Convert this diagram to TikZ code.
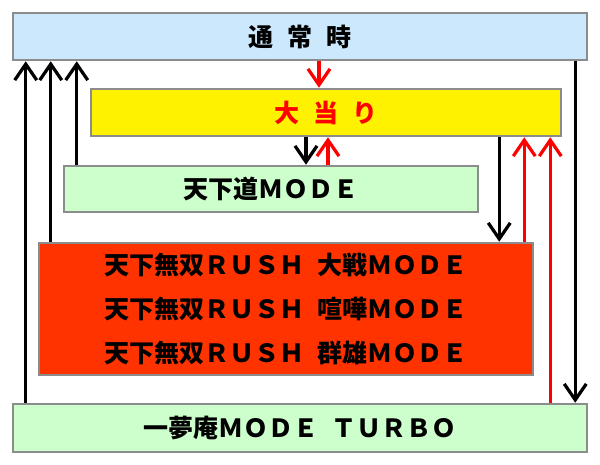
\documentclass[tikz,border=0pt]{standalone}
\usepackage{fontspec}
\usepackage{xcolor}
\usepackage{tikz}
\usetikzlibrary{arrows.meta, positioning, calc}
\newfontfamily\jpfont{Noto Sans CJK JP}[BoldFont={Noto Sans CJK JP Black}]
\definecolor{frame}{RGB}{140, 140, 140}
\definecolor{normalblue}{RGB}{204, 232, 252}
\definecolor{modegreen}{RGB}{204, 255, 204}
\definecolor{rushred}{RGB}{255, 51, 0}
\definecolor{hitred}{RGB}{255, 0, 0}
\tikzset{
    base/.style={text centered, font=\jpfont\bfseries\fontsize{17.8}{31}\selectfont, draw=frame, line width=1.8pt, inner sep=0pt},
    normal/.style={base, rectangle, minimum width=14.35cm, minimum height=1.175cm, fill=normalblue},
    bonus/.style={base, rectangle, minimum width=11.75cm, minimum height=1.175cm, fill=yellow, text=hitred},
    mode/.style={base, rectangle, minimum height=1.15cm, fill=modegreen},
    rush/.style={base, rectangle, minimum width=12.35cm, minimum height=3.3cm, fill=rushred, align=center},
    arrow/.style={line width=2.3pt, -{Straight Barb[length=0.4cm, width=0.55cm, line width=2.3pt]}, color=black},
    hitarrow/.style={arrow, color=hitred}
}
\newcommand{\gap}{\hspace{0.55em}}
\newcommand{\wsp}{\hspace{0.5em}}
\begin{document}
\begin{tikzpicture}
        \useasboundingbox (0,0) rectangle (15,-11.625);
        % -- States --
        \node (normal) [normal] at (7.5,-0.9125) {通\gap 常\gap 時};
        \node (bonus) [bonus] at (8.15,-2.8125) {大\gap 当\gap り};
        \node (tenka) [mode, minimum width=10.35cm] at (6.775,-4.725) {天下道ＭＯＤＥ};
        \node (rush) [rush] at (7.15,-7.725) {天下無双ＲＵＳＨ\wsp 大戦ＭＯＤＥ\\天下無双ＲＵＳＨ\wsp 喧嘩ＭＯＤＥ\\天下無双ＲＵＳＨ\wsp 群雄ＭＯＤＥ};
        \node (turbo) [mode, minimum width=14.35cm, minimum height=1.2cm] at (7.5,-10.7) {一夢庵ＭＯＤＥ\wsp ＴＵＲＢＯ};

        % -- Arrow start points --
        \coordinate (upA) at ([xshift=0.35cm]turbo.north west);
        \coordinate (upB) at ([xshift=0.325cm]rush.north west);
        \coordinate (upC) at ([xshift=0.35cm]tenka.north west);
        \coordinate (hit) at ([xshift=0.475cm]normal.south);
        \coordinate (fall) at ([xshift=-0.5cm]bonus.south);
        \coordinate (back) at ([xshift=0.05cm]bonus.south);
        \coordinate (toRush) at ([xshift=-1.575cm]bonus.south east);
        \coordinate (rushHit) at ([xshift=-0.25cm]rush.north east);
        \coordinate (turboHit) at ([xshift=-0.3cm]bonus.south east);
        \coordinate (toTurbo) at ([xshift=-0.325cm]normal.south east);

        % Connectors
        \draw [arrow] (upA) -- (upA |- normal.south);
        \draw [arrow] (upB) -- (upB |- normal.south);
        \draw [arrow] (upC) -- (upC |- normal.south);
        \draw [hitarrow] (hit) -- (hit |- bonus.north);
        \draw [arrow] (fall) -- (fall |- tenka.north);
        \draw [hitarrow] (back |- tenka.north) -- (back);
        \draw [arrow] (toRush) -- (toRush |- rush.north);
        \draw [hitarrow] (rushHit) -- (rushHit |- bonus.south);
        \draw [hitarrow] (turboHit |- turbo.north) -- (turboHit);
        \draw [arrow] (toTurbo) -- (toTurbo |- turbo.north);
    \end{tikzpicture}
\end{document}
